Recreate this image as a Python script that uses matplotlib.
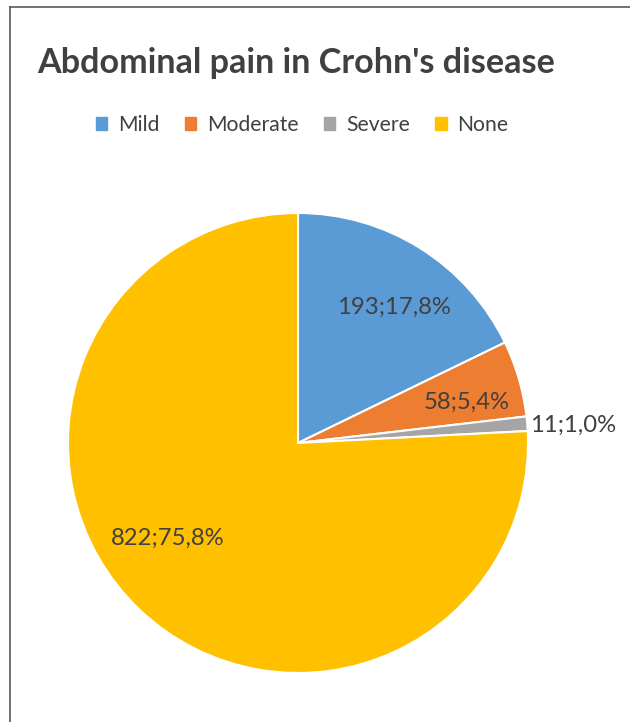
import matplotlib
matplotlib.use("Agg")
import matplotlib.pyplot as plt
from matplotlib.lines import Line2D
import numpy as np

categories = ["Mild", "Moderate", "Severe", "None"]
counts = [193, 58, 11, 822]
percent_labels = ["17,8%", "5,4%", "1,0%", "75,8%"]
colors = ["#5B9BD5", "#ED7D31", "#A5A5A5", "#FFC000"]
label_dist = [0.724, 0.756, 1.20, 0.70]
label_angle_shift = [-3.15, -2.7, -1.1, -10.4]

plt.rcParams['font.family'] = ['Lato', 'DejaVu Sans']
fig = plt.figure(figsize=(6.3, 7.22), dpi=100)

W, H = 630, 722
cx, cy, r = 298, 443, 230
ax = fig.add_axes([(cx - r) / W, (H - cy - r) / H, 2 * r / W, 2 * r / H])
wedges, _ = ax.pie(counts, colors=colors, startangle=90, counterclock=False,
                   radius=1, wedgeprops=dict(edgecolor="white", linewidth=1.5))
ax.set_xlim(-1, 1)
ax.set_ylim(-1, 1)
ax.set_aspect("equal")
ax.axis("off")

for w, c, p, d, s in zip(wedges, counts, percent_labels, label_dist, label_angle_shift):
    ang = np.deg2rad((w.theta1 + w.theta2) / 2 + s)
    ax.text(d * np.cos(ang), d * np.sin(ang), f"{c};{p}", ha="center", va="center",
            fontsize=17.2, color="#404040")

fig.text(37 / W, 1 - 63 / H, "Abdominal pain in Crohn's disease", fontsize=24.6,
         fontweight="bold", color="#404040", ha="left", va="center")

handles = [plt.Rectangle((0, 0), 1, 1, color=c) for c in colors]
fig.legend(handles, categories, loc="center", bbox_to_anchor=(302 / W, 1 - 125 / H),
           ncol=4, frameon=False, fontsize=15.2, handlelength=0.55, handleheight=0.55,
           handletextpad=0.5, columnspacing=1.2, labelcolor="#404040")

fig.add_artist(Line2D([10 / W, 10 / W], [0, 1 - 7 / H], color="#595959", lw=1.2,
                      transform=fig.transFigure))
fig.add_artist(Line2D([10 / W, 1], [1 - 7 / H, 1 - 7 / H], color="#595959", lw=1.2,
                      transform=fig.transFigure))

fig.savefig("out.png", dpi=100)
